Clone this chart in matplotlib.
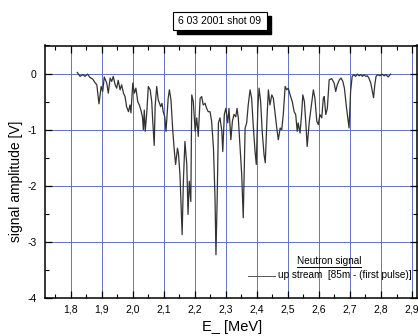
import matplotlib
matplotlib.use("Agg")
import matplotlib.pyplot as plt
from matplotlib.lines import Line2D
from matplotlib.patches import Rectangle
from matplotlib.ticker import MultipleLocator, FuncFormatter

plt.rcParams['font.family'] = ['Liberation Sans', 'DejaVu Sans']

# ---- data ----
energy_mev = [
    1.821, 1.830, 1.839, 1.846, 1.854, 1.862, 1.871, 1.878, 1.884, 1.891,
    1.898, 1.903, 1.908, 1.916, 1.921, 1.927, 1.932, 1.937, 1.943, 1.948,
    1.953, 1.959, 1.964, 1.970, 1.975, 1.980, 1.986, 1.991, 1.994, 2.000,
    2.005, 2.010, 2.016, 2.021, 2.026, 2.031, 2.034, 2.037, 2.040, 2.045,
    2.050, 2.056, 2.061, 2.064, 2.069, 2.072, 2.077, 2.082, 2.086, 2.090,
    2.094, 2.098, 2.103, 2.107, 2.114, 2.118, 2.123, 2.129, 2.134, 2.138,
    2.144, 2.147, 2.152, 2.159, 2.163, 2.168, 2.174, 2.178, 2.182, 2.187,
    2.190, 2.195, 2.201, 2.206, 2.211, 2.217, 2.222, 2.227, 2.233, 2.238,
    2.243, 2.249, 2.254, 2.260, 2.265, 2.268, 2.272, 2.276, 2.281, 2.287,
    2.290, 2.295, 2.300, 2.306, 2.310, 2.316, 2.321, 2.326, 2.332, 2.336,
    2.340, 2.346, 2.351, 2.356, 2.362, 2.367, 2.372, 2.378, 2.383, 2.388,
    2.394, 2.398, 2.403, 2.407, 2.412, 2.417, 2.423, 2.427, 2.433, 2.437,
    2.442, 2.448, 2.453, 2.458, 2.464, 2.469, 2.475, 2.480, 2.485, 2.491,
    2.496, 2.501, 2.507, 2.514, 2.520, 2.525, 2.530, 2.533, 2.539, 2.544,
    2.548, 2.553, 2.558, 2.562, 2.569, 2.577, 2.582, 2.587, 2.593, 2.598,
    2.603, 2.609, 2.614, 2.617, 2.622, 2.627, 2.633, 2.641, 2.649, 2.654,
    2.659, 2.666, 2.671, 2.677, 2.682, 2.689, 2.697, 2.702, 2.707, 2.713,
    2.718, 2.724, 2.729, 2.735, 2.740, 2.745, 2.751, 2.756, 2.761, 2.767,
    2.771, 2.776, 2.780, 2.784, 2.789, 2.797, 2.803, 2.810, 2.816, 2.823,
    2.831,
]
signal_v = [
    0.02, -0.05, -0.02, -0.05, -0.01, -0.07, -0.10, -0.16, -0.20, -0.54,
    -0.23, -0.32, -0.06, -0.17, -0.35, -0.08, -0.14, -0.05, -0.20, -0.26,
    -0.12, -0.29, -0.20, -0.35, -0.41, -0.59, -0.68, -0.56, -0.70, -0.17,
    -0.35, -0.26, -0.50, -0.56, -0.65, -0.77, -1.00, -0.65, -1.03, -0.70,
    -0.23, -0.29, -0.50, -0.82, -1.28, -0.59, -0.23, -0.47, -0.53, -0.59,
    -0.53, -0.68, -0.77, -1.03, -0.44, -0.29, -0.47, -1.03, -1.39, -1.62,
    -1.33, -1.42, -1.80, -2.87, -1.92, -1.21, -1.62, -2.51, -1.92, -2.28,
    -0.38, -0.50, -1.03, -0.79, -1.12, -0.44, -0.41, -0.56, -0.53, -0.62,
    -0.68, -0.68, -0.85, -1.33, -2.22, -3.23, -2.22, -0.88, -0.79, -1.03,
    -1.39, -0.73, -0.62, -0.88, -0.62, -1.18, -0.85, -0.73, -0.77, -0.62,
    -0.79, -1.33, -1.80, -2.57, -0.97, -0.88, -0.56, -0.29, -0.44, -0.91,
    -1.39, -1.62, -0.62, -0.26, -0.50, -1.03, -1.45, -1.59, -0.73, -0.29,
    -0.56, -0.38, -0.44, -0.68, -0.97, -1.18, -0.97, -1.00, -0.73, -0.23,
    -0.29, -0.26, -0.38, -0.50, -0.68, -0.73, -1.03, -0.88, -1.06, -0.73,
    -0.38, -0.50, -0.91, -1.30, -0.85, -0.50, -0.29, -0.44, -0.85, -0.91,
    -0.73, -0.79, -0.44, -0.41, -0.73, -0.62, -0.11, -0.09, -0.17, -0.32,
    -0.20, -0.11, -0.08, -0.14, -0.26, -0.62, -0.97, -0.32, -0.05, -0.02,
    -0.05, -0.01, -0.04, -0.02, -0.05, -0.02, -0.05, -0.04, -0.08, -0.17,
    -0.29, -0.43, -0.20, -0.05, -0.02, -0.04, -0.01, -0.04, -0.02, -0.06,
    -0.01,
]

title_text = "6 03 2001 shot 09"
x_label = "E_ [MeV]"
y_label = "signal amplitude [V]"
legend_title = "Neutron signal"
legend_entry = "up stream  [85m - (first pulse)]"

# ---- figure ----
W, H = 418, 336
fig = plt.figure(figsize=(W / 100, H / 100), dpi=100)
fig.patch.set_facecolor('white')

def fx(px):
    return px / W

def fy(py):
    return 1 - py / H

ax = fig.add_axes([fx(45), fy(298), fx(417) - fx(45), fy(45.5) - fy(298)])
ax.set_xlim(1.717, 2.916)
ax.set_ylim(-4.0, 0.5)

grid_color = '#6172c2'
ax.xaxis.set_major_locator(MultipleLocator(0.1))
ax.xaxis.set_minor_locator(MultipleLocator(0.05))
ax.yaxis.set_major_locator(MultipleLocator(1))
ax.yaxis.set_minor_locator(MultipleLocator(0.5))
ax.grid(True, which='major', color=grid_color, linewidth=0.7)
ax.set_axisbelow(True)

ax.xaxis.set_major_formatter(FuncFormatter(lambda v, p: f"{v:.1f}".replace('.', ',')))
ax.yaxis.set_major_formatter(FuncFormatter(lambda v, p: f"{v:.0f}"))

ax.tick_params(which='both', direction='in', top=True, right=True,
               color='black', labelsize=7.5)
ax.tick_params(which='major', length=5, width=0.9)
ax.tick_params(which='minor', length=3, width=0.8)
ax.tick_params(axis='x', pad=5)
ax.tick_params(axis='y', pad=6)
for s in ax.spines.values():
    s.set_linewidth(1.1)
    s.set_color('black')

ax.plot(energy_mev, signal_v, color='#333333', linewidth=0.9)

fig.text(fx(16.5), fy(181), y_label, rotation=90, ha='center', va='center',
         fontsize=10)
fig.text(fx(232), fy(327), x_label, ha='center', va='center', fontsize=10.5)

# title box with drop shadow
bx0, bx1, by0, by1 = 172.7, 266.7, 11.7, 29.5
fig.patches.append(Rectangle((fx(bx0 + 4), fy(by1 + 4)), fx(bx1) - fx(bx0),
                             fy(by0) - fy(by1), transform=fig.transFigure,
                             facecolor='black', edgecolor='black', zorder=1))
fig.patches.append(Rectangle((fx(bx0), fy(by1)), fx(bx1) - fx(bx0),
                             fy(by0) - fy(by1), transform=fig.transFigure,
                             facecolor='white', edgecolor='black',
                             linewidth=0.8, zorder=2))
fig.text(fx((bx0 + bx1) / 2), fy((by0 + by1) / 2), title_text,
         ha='center', va='center', fontsize=7.5, zorder=3)

# legend (text drawn over the grid, no frame)
t1 = fig.text(fx(329), fy(261), legend_title, ha='center', va='center',
              fontsize=7.2)
fig.text(fx(278), fy(275.5), legend_entry, ha='left', va='center',
         fontsize=7.2)
fig.lines.append(Line2D([fx(248), fx(275)], [fy(275.5), fy(275.5)],
                        transform=fig.transFigure, color='#555555',
                        linewidth=0.7))
fig.canvas.draw()
bb = t1.get_window_extent()
fig.lines.append(Line2D([bb.x0 / W, bb.x1 / W], [(bb.y0 - 0.5) / H, (bb.y0 - 0.5) / H],
                        transform=fig.transFigure, color='black',
                        linewidth=0.7))

fig.savefig('out.png', dpi=100, facecolor='white')
